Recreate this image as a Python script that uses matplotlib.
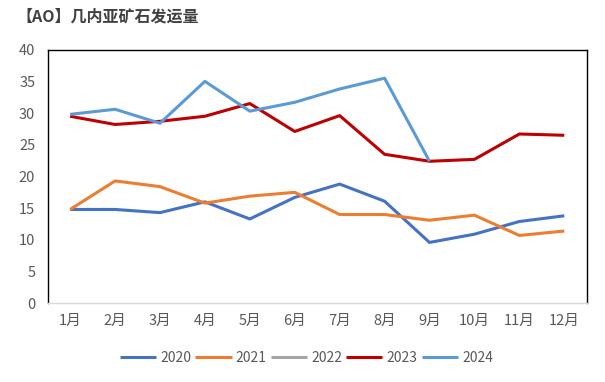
import numpy as np
import matplotlib
matplotlib.use("Agg")
import matplotlib.pyplot as plt

plt.rcParams['font.family'] = ['Noto Sans CJK SC', 'DejaVu Sans']

# ============================================================================
# DATA
# ============================================================================
months = ["1月", "2月", "3月", "4月", "5月", "6月", "7月", "8月", "9月", "10月", "11月", "12月"]

y2020 = [14.8, 14.8, 14.3, 16.0, 13.3, 16.7, 18.8, 16.1, 9.6, 10.9, 12.9, 13.8]
y2021 = [14.8, 19.3, 18.4, 15.8, 16.9, 17.5, 14.0, 14.0, 13.1, 13.9, 10.7, 11.4]
y2022 = [np.nan] * 12
y2023 = [29.5, 28.2, 28.7, 29.5, 31.5, 27.1, 29.6, 23.5, 22.4, 22.7, 26.7, 26.5]
y2024 = [29.8, 30.6, 28.4, 35.0, 30.3, 31.7, 33.8, 35.5, 22.4,
         np.nan, np.nan, np.nan]

series = [("2020", y2020, "#4472C4"),
          ("2021", y2021, "#ED7D31"),
          ("2022", y2022, "#A5A5A5"),
          ("2023", y2023, "#C00000"),
          ("2024", y2024, "#5B9BD5")]

# ============================================================================
# PLOT
# ============================================================================
fig = plt.figure(figsize=(6.05, 3.82), dpi=100)
ax = fig.add_axes([0.0788, 0.206, 0.891, 0.664])

x = np.arange(1, 13)
for name, vals, color in series:
    ax.plot(x, vals, color=color, lw=2.2, label=name, solid_capstyle="butt")

ax.set_xlim(0.5, 12.5)
ax.set_ylim(0, 40)
ax.set_yticks(range(0, 41, 5))
ax.set_xticks(x)
ax.set_xticklabels(months)
ax.tick_params(axis="both", length=0, labelsize=10.5, colors="#595959")
ax.tick_params(axis="x", pad=8)
ax.tick_params(axis="y", pad=9)

for side in ["top", "left", "right"]:
    ax.spines[side].set_color("black")
    ax.spines[side].set_linewidth(1.0)
ax.spines["bottom"].set_color("#D9D9D9")
ax.spines["bottom"].set_linewidth(1.0)

fig.text(0.028, 0.958, "【AO】几内亚矿石发运量", fontsize=11.5, fontweight="bold",
         color="#404040", ha="left", va="center")

ax.legend(loc="center", bbox_to_anchor=(0.48, -0.215), ncol=5, frameon=False,
          fontsize=10, labelcolor="#595959", handlelength=2.6, handletextpad=0.3,
          columnspacing=0.3)

fig.savefig("out.png", dpi=100)
